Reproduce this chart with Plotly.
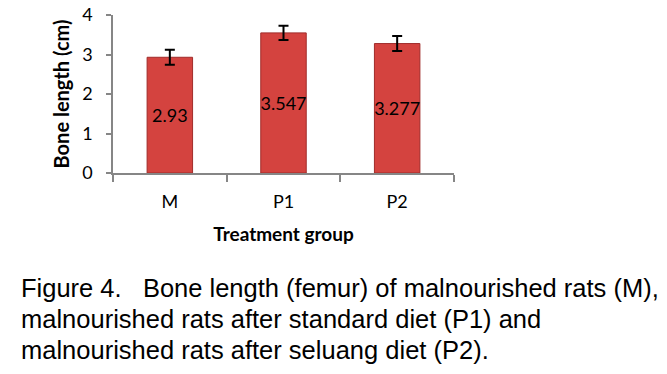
import plotly.graph_objects as go

categories = ["M", "P1", "P2"]
values = [2.93, 3.547, 3.277]
errors = [0.19, 0.18, 0.19]
labels = ["2.93", "3.547", "3.277"]
y_ticks = [0, 1, 2, 3, 4]
caption_lines = [
    "Figure 4.\u00a0\u00a0\u00a0Bone length (femur) of malnourished rats (M),",
    "malnourished rats after standard diet (P1) and",
    "malnourished rats after seluang diet (P2).",
]

W, H = 667, 374
L, R, T, B = 113, 213, 15, 201
pw, ph = W - L - R, H - T - B

fig = go.Figure(go.Bar(
    x=categories, y=values,
    width=0.4,
    marker=dict(color="#d4433f", line=dict(color="#a02c2a", width=1)),
    error_y=dict(type="data", array=errors, color="black", thickness=2, width=5),
    text=labels, textposition="inside", insidetextanchor="middle",
    constraintext="none", cliponaxis=False,
    textfont=dict(family="Lato", size=18, color="black"),
    textangle=0,
    hoverinfo="skip",
))

axis_font = dict(family="Lato", size=18, color="black")
fig.update_layout(
    width=W, height=H,
    margin=dict(l=L, r=R, t=T, b=B, autoexpand=False),
    paper_bgcolor="white", plot_bgcolor="white",
    showlegend=False,
    uniformtext=dict(mode=False),
    xaxis=dict(
        automargin=False,
        showline=True, linecolor="#868686", linewidth=1.5,
        ticks="outside", tickson="boundaries", ticklen=7, tickcolor="#868686", tickwidth=1.5,
        tickfont=axis_font, showgrid=False,
        ticklabelstandoff=12,
        title=dict(text="<b>Treatment group</b>", font=dict(family="Lato", size=19, color="black"), standoff=16),
    ),
    yaxis=dict(
        automargin=False,
        range=[0, 4], tickvals=y_ticks,
        showline=True, linecolor="#868686", linewidth=1.5,
        ticks="outside", ticklen=5, tickcolor="#868686", tickwidth=1.5,
        tickfont=axis_font, showgrid=False, zeroline=False,
        ticklabelstandoff=10,
        title=dict(text="<b>Bone length (cm)</b>", font=dict(family="Lato", size=20, color="black"), standoff=7),
    ),
)

line_centers = [288, 319, 350]
for txt, yc in zip(caption_lines, line_centers):
    fig.add_annotation(
        text=txt, xref="paper", yref="paper",
        x=(19 - L) / pw, y=(H - B - yc) / ph,
        xanchor="left", yanchor="middle", showarrow=False,
        font=dict(family="Liberation Sans", size=25.5, color="black"),
    )

fig.write_html("out.html", config={"displayModeBar": False},
               post_script="document.body.style.margin='0';")
